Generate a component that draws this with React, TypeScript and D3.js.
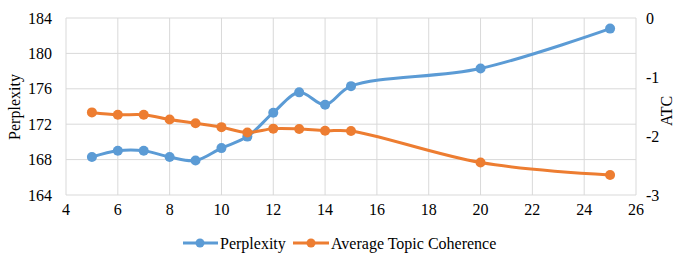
import React from "react";
import * as d3 from "d3";

const xValues = [5, 6, 7, 8, 9, 10, 11, 12, 13, 14, 15, 20, 25];
const perplexity = [168.3, 169.0, 169.0, 168.3, 167.9, 169.3, 170.6, 173.3, 175.6, 174.2, 176.3, 178.3, 182.8];
const atc = [-1.6, -1.64, -1.64, -1.72, -1.785, -1.85, -1.94, -1.875, -1.88, -1.91, -1.915, -2.45, -2.66];
const xTicks = [4, 6, 8, 10, 12, 14, 16, 18, 20, 22, 24, 26];
const leftTicks = [164, 168, 172, 176, 180, 184];
const rightTicks = [-3, -2, -1, 0];
const seriesNames = ["Perplexity", "Average Topic Coherence"];

const W = 676, H = 255;
const BLUE = "#5B9BD5", ORANGE = "#ED7D31", GRID = "#D9D9D9";
const FONT = '"Liberation Serif", "Times New Roman", "DejaVu Serif", serif';

export default function App() {
  const x = d3.scaleLinear().domain([4, 26]).range([66, 636]);
  const yL = d3.scaleLinear().domain([164, 184]).range([195, 18]);
  const yR = d3.scaleLinear().domain([-3, 0]).range([195, 18]);
  const curve = d3.curveCatmullRom.alpha(0.5);
  const lineL = d3.line<number>().x((_, i) => x(xValues[i])).y((d) => yL(d)).curve(curve);
  const lineR = d3.line<number>().x((_, i) => x(xValues[i])).y((d) => yR(d)).curve(curve);
  const ts = { fontFamily: FONT, fontSize: "16px" } as React.CSSProperties;

  return (
    <svg width={W} height={H} style={{ position: "absolute", left: 0, top: 0, background: "#fff", fontFamily: FONT }}>
      <rect width={W} height={H} fill="#fff" />
      {xTicks.map((t) => (
        <line key={"gx" + t} x1={x(t)} x2={x(t)} y1={yL(184)} y2={yL(164)} stroke={GRID} strokeWidth={1} />
      ))}
      {leftTicks.map((t) => (
        <line key={"gy" + t} x1={x(4)} x2={x(26)} y1={yL(t)} y2={yL(t)} stroke={GRID} strokeWidth={1} />
      ))}
      {leftTicks.map((t) => (
        <text key={"lt" + t} x={52} y={yL(t)} dy="0.35em" textAnchor="end" style={ts} fill="#000">{t}</text>
      ))}
      {rightTicks.map((t) => (
        <text key={"rt" + t} x={646} y={yR(t)} dy="0.35em" textAnchor="start" style={ts} fill="#000">{t}</text>
      ))}
      {xTicks.map((t) => (
        <text key={"xt" + t} x={x(t)} y={215} textAnchor="middle" style={ts} fill="#000">{t}</text>
      ))}
      <text transform={`translate(20,107) rotate(-90)`} textAnchor="middle" style={ts} fill="#000">Perplexity</text>
      <text transform={`translate(672,111) rotate(-90)`} textAnchor="middle" style={ts} fill="#000">ATC</text>

      <path d={lineL(perplexity) || ""} fill="none" stroke={BLUE} strokeWidth={3} strokeLinejoin="round" />
      <path d={lineR(atc) || ""} fill="none" stroke={ORANGE} strokeWidth={3} strokeLinejoin="round" />
      {perplexity.map((v, i) => (
        <circle key={"pb" + i} cx={x(xValues[i])} cy={yL(v)} r={5} fill={BLUE} />
      ))}
      {atc.map((v, i) => (
        <circle key={"po" + i} cx={x(xValues[i])} cy={yR(v)} r={5} fill={ORANGE} />
      ))}

      <g>
        <line x1={183} x2={218} y1={243} y2={243} stroke={BLUE} strokeWidth={3} />
        <circle cx={200} cy={243} r={4.5} fill={BLUE} />
        <text x={220} y={243} dy="0.35em" style={ts} fill="#000">{seriesNames[0]}</text>
        <line x1={293} x2={329} y1={243} y2={243} stroke={ORANGE} strokeWidth={3} />
        <circle cx={311} cy={243} r={4.5} fill={ORANGE} />
        <text x={331} y={243} dy="0.35em" style={ts} fill="#000">{seriesNames[1]}</text>
      </g>
    </svg>
  );
}
